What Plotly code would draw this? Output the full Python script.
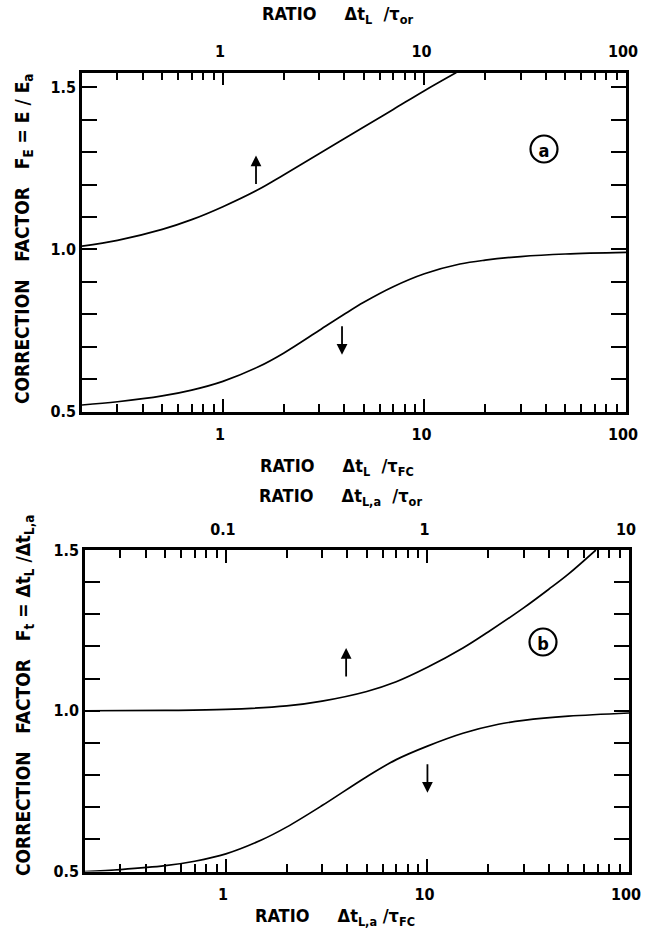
import math
import plotly.graph_objects as go

# ---------------- data ----------------
# Panel (a): upper curve read against top axis (dt_L / tau_or)
a_up_x = [0.2, 0.3, 0.5, 0.7, 1.0, 1.5, 2.0, 3.0, 5.0, 7.0, 10.0, 14.4]
a_up_y = [1.01, 1.028, 1.062, 1.092, 1.132, 1.185, 1.23, 1.295, 1.378, 1.432, 1.49, 1.546]
# Panel (a): lower curve read against bottom axis (dt_L / tau_FC)
a_lo_x = [0.2, 0.3, 0.5, 0.7, 1.0, 1.5, 2.0, 3.0, 4.0, 5.0, 7.0, 10.0, 15.0, 20.0, 30.0, 50.0, 100.0]
a_lo_y = [0.52, 0.53, 0.548, 0.566, 0.593, 0.638, 0.68, 0.75, 0.80, 0.837, 0.885, 0.925, 0.955, 0.967,
          0.978, 0.986, 0.991]

# Panel (b): upper curve read against top axis (dt_L,a / tau_or)
b_up_x = [0.02, 0.05, 0.1, 0.2, 0.3, 0.5, 0.7, 1.0, 1.5, 2.0, 3.0, 4.0, 5.0, 6.85]
b_up_y = [1.0, 1.001, 1.004, 1.015, 1.03, 1.06, 1.09, 1.135, 1.195, 1.245, 1.32, 1.378, 1.425, 1.5]
# Panel (b): lower curve read against bottom axis (dt_L,a / tau_FC)
b_lo_x = [0.2, 0.3, 0.5, 0.7, 1.0, 1.5, 2.0, 3.0, 5.0, 7.0, 10.0, 15.0, 22.5, 30.0, 50.0, 100.0]
b_lo_y = [0.50, 0.506, 0.518, 0.532, 0.555, 0.598, 0.638, 0.705, 0.795, 0.848, 0.89, 0.93, 0.958,
          0.97, 0.983, 0.993]

# tick labels
a_bottom_ticks = [1, 10, 100]
a_top_ticks = [1, 10, 100]
b_bottom_ticks = [1, 10, 100]
b_top_ticks = [0.1, 1, 10]
y_ticks = [0.5, 1.0, 1.5]

# axis ranges
a_xrange = [0.2, 100]
b_xrange_bottom = [0.2, 100]
b_xrange_top = [0.02, 10]
a_yrange = [0.5, 1.546]
b_yrange = [0.5, 1.5]

# arrows (tip position in data units, direction)
a_arrow_up = (1.46, 1.29)
a_arrow_dn = (3.9, 0.675)
b_arrow_up = (0.395, 1.195)
b_arrow_dn = (10.0, 0.745)

# ---------------- layout helpers ----------------
W, H = 646, 931
FONT = "DejaVu Sans Condensed"


def px(x):
    return x / W


def py(y):
    return 1 - y / H


def minor_vals(lo, hi):
    vals = []
    e = math.floor(math.log10(lo))
    while 10 ** e <= hi:
        for d in range(2, 10):
            v = d * 10 ** e
            if lo <= v <= hi:
                vals.append(v)
        e += 1
    return vals


def fmt(v):
    return ("%g" % v)


line_col = "black"

fig = go.Figure()

curve = dict(color=line_col, width=1.7, shape="spline", smoothing=1.0)
fig.add_trace(go.Scatter(x=a_up_x, y=a_up_y, xaxis="x2", yaxis="y", mode="lines",
                         line=curve, showlegend=False))
fig.add_trace(go.Scatter(x=a_lo_x, y=a_lo_y, xaxis="x", yaxis="y", mode="lines",
                         line=curve, showlegend=False))
fig.add_trace(go.Scatter(x=b_up_x, y=b_up_y, xaxis="x4", yaxis="y2", mode="lines",
                         line=curve, showlegend=False))
fig.add_trace(go.Scatter(x=b_lo_x, y=b_lo_y, xaxis="x3", yaxis="y2", mode="lines",
                         line=curve, showlegend=False))

tickfont = dict(family=FONT, size=16, color="black", weight="bold")

a_dom_x = [px(82), px(626)]
a_dom_y = [py(411.5), py(72.5)]
b_dom_x = [px(85), px(629)]
b_dom_y = [py(871.5), py(550)]


def xaxis(rng, ticks, dom, anchor, side, overlay=None):
    d = dict(type="log", range=[math.log10(rng[0]), math.log10(rng[1])], domain=dom,
             anchor=anchor, side=side, showline=True, linecolor="black", linewidth=2.5,
             ticks="inside", ticklen=13, tickwidth=1.7, tickcolor="black",
             tickvals=ticks, ticktext=[fmt(t) for t in ticks], tickfont=tickfont,
             ticklabelstandoff=(7 if side == "bottom" else 6), ticklabeloverflow="allow",
             ticklabelshift=-3,
             minor=dict(tickvals=minor_vals(rng[0], rng[1]), ticks="inside", ticklen=8,
                        tickwidth=1.7, tickcolor="black", showgrid=False),
             showgrid=False, zeroline=False, automargin=False, fixedrange=True)
    if overlay:
        d["overlaying"] = overlay
    return d


def yaxis(rng, dom, anchor):
    return dict(range=rng, domain=dom, anchor=anchor, showline=True, mirror="allticks",
                linecolor="black", linewidth=2.5, ticks="inside", ticklen=15, tickwidth=1.7,
                tickcolor="black", tickvals=y_ticks, ticktext=["%.1f" % t for t in y_ticks],
                tickfont=tickfont, ticklabeloverflow="allow",
                minor=dict(dtick=0.1, ticks="inside", ticklen=11, tickwidth=1.7,
                           tickcolor="black", showgrid=False),
                showgrid=False, zeroline=False, automargin=False, fixedrange=True)


fig.update_layout(
    width=W, height=H, autosize=False,
    margin=dict(l=0, r=0, t=0, b=0),
    paper_bgcolor="white", plot_bgcolor="white",
    xaxis=xaxis(a_xrange, a_bottom_ticks, a_dom_x, "y", "bottom"),
    xaxis2=xaxis(a_xrange, a_top_ticks, a_dom_x, "y", "top", overlay="x"),
    xaxis3=xaxis(b_xrange_bottom, b_bottom_ticks, b_dom_x, "y2", "bottom"),
    xaxis4=xaxis(b_xrange_top, b_top_ticks, b_dom_x, "y2", "top", overlay="x3"),
    yaxis=yaxis(a_yrange, a_dom_y, "x"),
    yaxis2=yaxis(b_yrange, b_dom_y, "x3"),
)

title_font = dict(family=FONT, size=18, color="black", weight="bold")
ytitle_font = dict(family=FONT, size=19, color="black", weight="bold")
ann = []


def label(text, x, y, angle=0, font=title_font):
    ann.append(dict(text=text, x=px(x), y=py(y), xref="paper", yref="paper", showarrow=False,
                    font=font, textangle=angle, xanchor="center", yanchor="middle"))


GAP = "&nbsp;" * 5
label("RATIO" + GAP + "Δt<sub>L</sub>&nbsp;&nbsp;/τ<sub>or</sub>", 337, 15)
label("RATIO" + GAP + "Δt<sub>L</sub>&nbsp;&nbsp;/τ<sub>FC</sub>", 337, 467)
label("RATIO" + GAP + "Δt<sub>L,a</sub>&nbsp;&nbsp;/τ<sub>or</sub>", 340, 497)
label("RATIO" + GAP + "Δt<sub>L,a</sub>&nbsp;/τ<sub>FC</sub>", 335, 917)
label("CORRECTION&nbsp;&nbsp;&nbsp;FACTOR&nbsp;&nbsp;&nbsp;F<sub>E</sub> = E / E<sub>a</sub>",
      24, 239, -90, ytitle_font)
label("CORRECTION&nbsp;&nbsp;&nbsp;FACTOR&nbsp;&nbsp;&nbsp;F<sub>t</sub> = Δt<sub>L</sub> /Δt<sub>L,a</sub>",
      24, 696, -90, ytitle_font)


def arrow(xref, yref, pt, up):
    ann.append(dict(x=math.log10(pt[0]), y=pt[1], xref=xref, yref=yref, showarrow=True,
                    ax=0, ay=(30 if up else -30), axref="pixel", ayref="pixel",
                    arrowhead=2, arrowsize=1.2, arrowwidth=1.8, arrowcolor="black", text=""))


arrow("x2", "y", a_arrow_up, True)
arrow("x", "y", a_arrow_dn, False)
arrow("x4", "y2", b_arrow_up, True)
arrow("x3", "y2", b_arrow_dn, False)

fig.update_layout(annotations=ann)

# circled panel letters
for letter, cx, cy in [("a", 544, 149), ("b", 543, 642)]:
    fig.add_shape(type="circle", xref="paper", yref="paper",
                  x0=px(cx - 13.5), x1=px(cx + 13.5), y0=py(cy + 13.5), y1=py(cy - 13.5),
                  line=dict(color="black", width=2.2),
                  label=dict(text=letter, font=dict(family=FONT, size=18, color="black", weight="bold"),
                             textposition="middle center"))

# remove the default 8px page margin so the figure fills the window exactly
fig.write_html("out.html", config={"displayModeBar": False},
               post_script="document.body.style.margin='0';")
